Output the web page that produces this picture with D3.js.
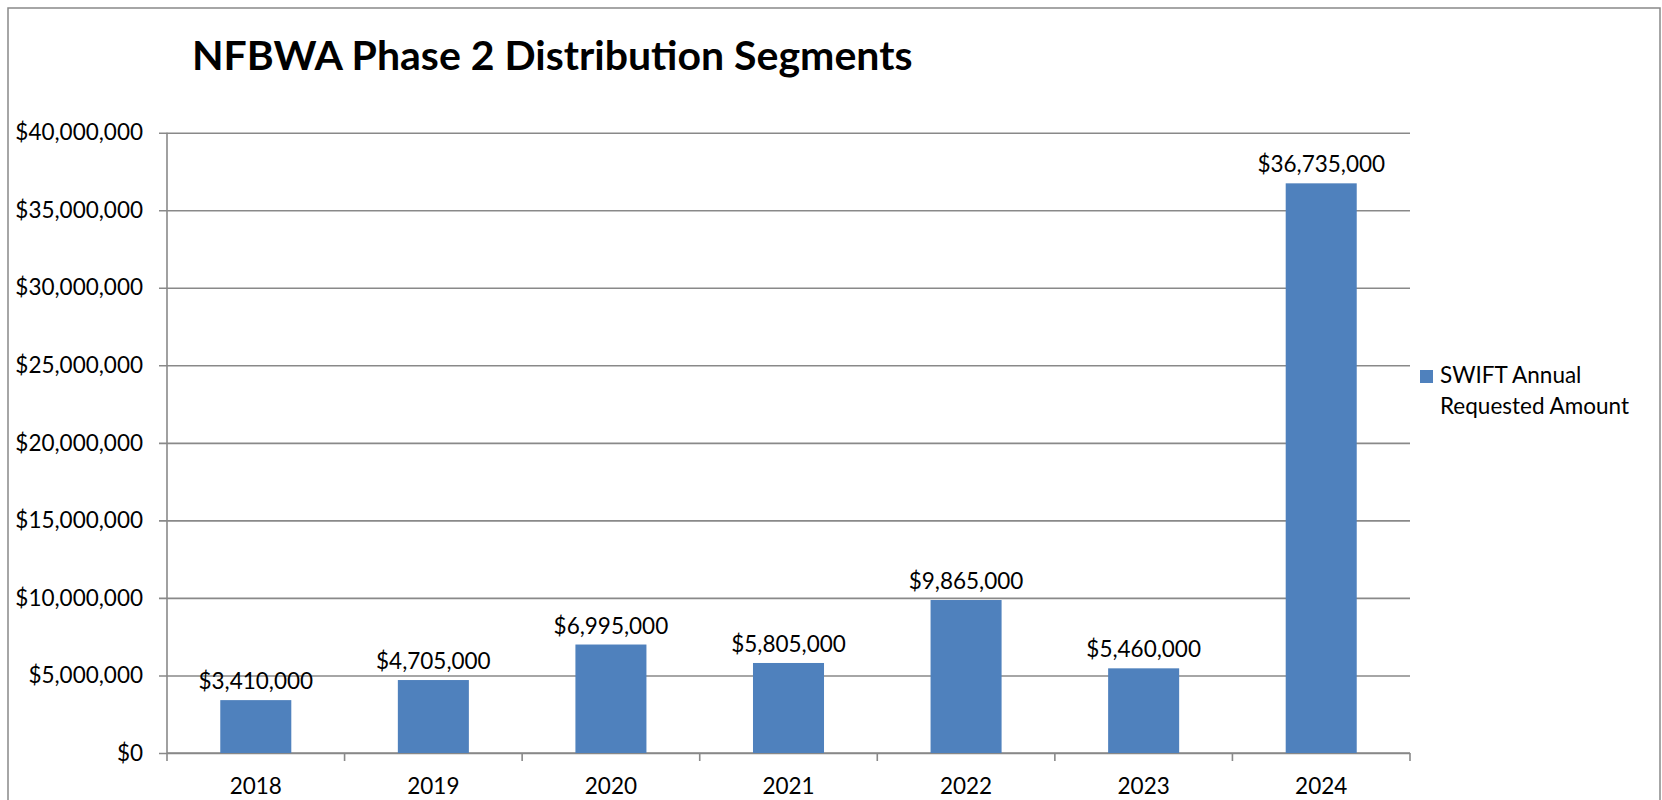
<!DOCTYPE html>
<html>
<head>
<meta charset="utf-8">
<script src="https://cdnjs.cloudflare.com/ajax/libs/d3/7.8.5/d3.min.js"></script>
<style>
  body { margin: 0; background: #fff; }
  text { font-family: Lato, "Open Sans", sans-serif; fill: #000; }
</style>
</head>
<body>
<div id="container"></div>
<script>
// data
var years = ["2018", "2019", "2020", "2021", "2022", "2023", "2024"];
var amounts = [3410000, 4705000, 6995000, 5805000, 9865000, 5460000, 36735000];
var yTicks = [0, 5000000, 10000000, 15000000, 20000000, 25000000, 30000000, 35000000, 40000000];
var seriesName = ["SWIFT Annual", "Requested Amount"];
var title = "NFBWA Phase 2 Distribution Segments";

var svg_width = 1662, svg_height = 800;
var margin = {left: 167, top: 132.7, right: 252, bottom: 47};
var chart_width = svg_width - margin.left - margin.right,
    chart_height = svg_height - margin.top - margin.bottom;
var barColor = "#4f81bd", gridColor = "#898989";

var svg = d3.select("#container").append("svg")
    .attr("width", svg_width)
    .attr("height", svg_height);

// outer frame
svg.append("rect")
    .attr("x", 8).attr("y", 8)
    .attr("width", 1652).attr("height", 820)
    .attr("fill", "none")
    .attr("stroke", gridColor)
    .attr("stroke-width", 1.5);

svg.append("text")
    .attr("x", 192).attr("y", 70)
    .style("font-size", "41px")
    .style("font-weight", "bold")
    .text(title);

var chart = svg.append("g")
    .attr("transform", `translate(${margin.left},${margin.top})`);

var scale_x = d3.scaleBand()
    .domain(years)
    .range([0, chart_width])
    .paddingInner(0.6)
    .paddingOuter(0.3);

var scale_y = d3.scaleLinear()
    .domain([0, 40000000])
    .range([chart_height, 0]);

var fmt = d3.format("$,.0f");

// y axis with gridlines
var axis_y = d3.axisLeft(scale_y)
    .tickValues(yTicks)
    .tickFormat(fmt)
    .tickSize(-chart_width)
    .tickPadding(24);
var gy = chart.append("g").attr("class", "axis_y").call(axis_y);
gy.select(".domain").remove();
gy.selectAll(".tick line")
    .attr("x1", -8)
    .attr("stroke", gridColor)
    .attr("stroke-width", 1.6);
gy.selectAll(".tick text")
    .style("font-size", "22.5px")
    .style("font-family", "Lato");

// y axis line
chart.append("line")
    .attr("x1", 0).attr("x2", 0)
    .attr("y1", 0).attr("y2", chart_height)
    .attr("stroke", gridColor)
    .attr("stroke-width", 1.6);

// x axis: ticks at band boundaries
var step = scale_x.step();
var bounds = d3.range(years.length + 1).map(i => i * step);
var gx = chart.append("g").attr("class", "axis_x")
    .attr("transform", `translate(0,${chart_height})`);
gx.append("line")
    .attr("x1", 0).attr("x2", chart_width)
    .attr("stroke", gridColor).attr("stroke-width", 1.6);
gx.selectAll(".xt").data(bounds).enter().append("line")
    .attr("class", "xt")
    .attr("x1", d => d).attr("x2", d => d)
    .attr("y1", 0).attr("y2", 8)
    .attr("stroke", gridColor).attr("stroke-width", 1.6);
gx.selectAll(".xl").data(years).enter().append("text")
    .attr("class", "xl")
    .attr("x", d => scale_x(d) + scale_x.bandwidth() / 2)
    .attr("y", 41)
    .attr("text-anchor", "middle")
    .style("font-size", "22.5px")
    .text(d => d);

// bars
var data = years.map((y, i) => ({year: y, value: amounts[i]}));
var bar = chart.selectAll(".bar").data(data).enter()
    .append("g").attr("class", "bar");
bar.append("rect")
    .attr("x", d => scale_x(d.year))
    .attr("y", d => scale_y(d.value))
    .attr("width", scale_x.bandwidth())
    .attr("height", d => chart_height - scale_y(d.value))
    .attr("fill", barColor);
bar.append("text")
    .attr("x", d => scale_x(d.year) + scale_x.bandwidth() / 2)
    .attr("y", d => scale_y(d.value) - 11)
    .attr("text-anchor", "middle")
    .style("font-size", "22.5px")
    .text(d => fmt(d.value));

// legend
var legend = svg.append("g").attr("transform", "translate(1420,370)");
legend.append("rect")
    .attr("width", 13).attr("height", 13)
    .attr("fill", barColor);
legend.selectAll("text").data(seriesName).enter().append("text")
    .attr("x", 20)
    .attr("y", (d, i) => 13 + i * 31)
    .style("font-size", "22.5px")
    .text(d => d);
</script>
</body>
</html>
